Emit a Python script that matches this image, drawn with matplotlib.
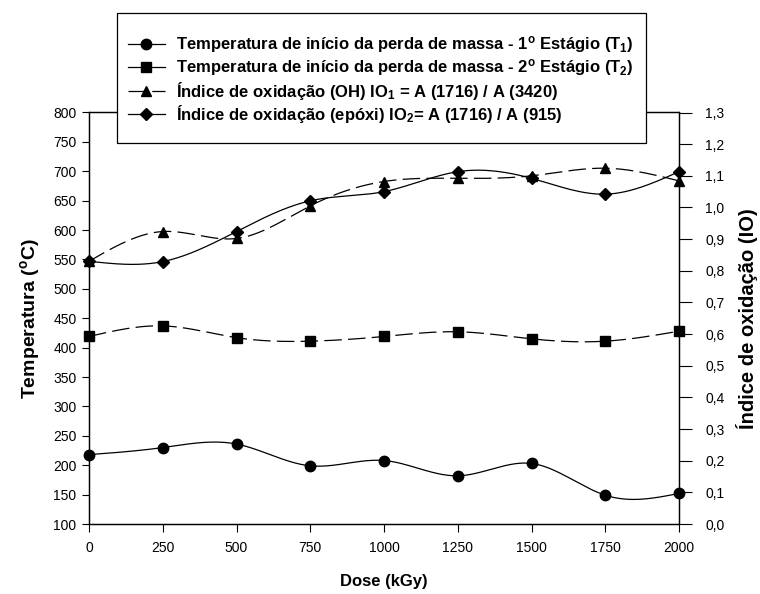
import numpy as np
import matplotlib
matplotlib.use("Agg")
import matplotlib.pyplot as plt
from matplotlib.patches import Rectangle
from matplotlib.lines import Line2D
from matplotlib.ticker import FuncFormatter, MultipleLocator

plt.rcParams['font.family'] = ['Liberation Sans', 'DejaVu Sans']
plt.rcParams['mathtext.fontset'] = 'custom'
plt.rcParams['mathtext.rm'] = 'Liberation Sans:bold'
plt.rcParams['mathtext.it'] = 'Liberation Sans:bold:italic'
plt.rcParams['mathtext.bf'] = 'Liberation Sans:bold'

# ---- data ----
dose = [0, 250, 500, 750, 1000, 1250, 1500, 1750, 2000]
t1 = [218, 230, 236, 199, 208, 182, 203, 149, 152]          # left axis (°C)
t2 = [419, 437, 417, 411, 419, 427, 415, 411, 428]          # left axis (°C)
io1 = [0.83, 0.924, 0.902, 1.005, 1.082, 1.092, 1.100, 1.124, 1.084]  # right axis
io2 = [0.83, 0.829, 0.924, 1.021, 1.050, 1.113, 1.092, 1.042, 1.113]  # right axis

labels = [
    r'Temperatura de início da perda de massa - 1$^{\mathrm{o}}$ Estágio (T$_{\mathrm{1}}$)',
    r'Temperatura de início da perda de massa - 2$^{\mathrm{o}}$ Estágio (T$_{\mathrm{2}}$)',
    r'Índice de oxidação (OH) IO$_{\mathrm{1}}$ = A (1716) / A (3420)',
    r'Índice de oxidação (epóxi) IO$_{\mathrm{2}}$= A (1716) / A (915)',
]


def natural_spline(x, y, xs):
    x = np.asarray(x, float)
    y = np.asarray(y, float)
    n = len(x)
    h = np.diff(x)
    A = np.zeros((n, n))
    r = np.zeros(n)
    A[0, 0] = 1
    A[-1, -1] = 1
    for i in range(1, n - 1):
        A[i, i - 1] = h[i - 1]
        A[i, i] = 2 * (h[i - 1] + h[i])
        A[i, i + 1] = h[i]
        r[i] = 3 * ((y[i + 1] - y[i]) / h[i] - (y[i] - y[i - 1]) / h[i - 1])
    c = np.linalg.solve(A, r)
    b = (y[1:] - y[:-1]) / h - h * (2 * c[:-1] + c[1:]) / 3
    d = (c[1:] - c[:-1]) / (3 * h)
    idx = np.clip(np.searchsorted(x, xs) - 1, 0, n - 2)
    dx = xs - x[idx]
    return y[idx] + b[idx] * dx + c[idx] * dx ** 2 + d[idx] * dx ** 3


fig = plt.figure(figsize=(7.6, 5.94), dpi=100)
ax = fig.add_axes([89 / 760, 1 - 524 / 594, (679 - 89) / 760, (524 - 112.5) / 594])
ax2 = ax.twinx()

xs = np.linspace(dose[0], dose[-1], 600)
lw = 0.9
dash = (14, 5)

# T1
ax.plot(xs, natural_spline(dose, t1, xs), color='black', lw=lw, zorder=2)
ax.plot(dose, t1, 'o', color='black', ms=7.5, zorder=3, clip_on=False)
# T2
ax.plot(xs, natural_spline(dose, t2, xs), color='black', lw=lw, dashes=dash, zorder=2)
ax.plot(dose, t2, 's', color='black', ms=6.5, zorder=3, clip_on=False)
# IO1
ax2.plot(xs, natural_spline(dose, io1, xs), color='black', lw=lw, dashes=dash, zorder=2)
ax2.plot(dose, io1, '^', color='black', ms=7, zorder=3, clip_on=False)
# IO2
ax2.plot(xs, natural_spline(dose, io2, xs), color='black', lw=lw, zorder=2)
ax2.plot(dose, io2, 'D', color='black', ms=6.5, zorder=3, clip_on=False)

ax.set_xlim(0, 2000)
ax.set_ylim(100, 800)
ax2.set_ylim(0, 1.3)
ax.xaxis.set_major_locator(MultipleLocator(250))
ax.yaxis.set_major_locator(MultipleLocator(50))
ax2.yaxis.set_major_locator(MultipleLocator(0.1))
ax2.yaxis.set_major_formatter(FuncFormatter(lambda v, p: f'{v:.1f}'.replace('.', ',')))

ax.tick_params(axis='y', direction='out', length=5, width=0.8, labelsize=10, pad=4)
ax.tick_params(axis='x', direction='out', length=6, width=0.8, labelsize=10, pad=6)
ax2.tick_params(axis='y', direction='out', length=9, width=0.8, labelsize=10, pad=10)
for a in (ax, ax2):
    for s in a.spines.values():
        s.set_linewidth(0.9)

ax.set_xlabel('Dose (kGy)', fontsize=12, fontweight='bold', labelpad=14)
ax.set_ylabel(r'Temperatura ($^{\mathrm{o}}$C)', fontsize=14, fontweight='bold', labelpad=8)
ax2.set_ylabel('Índice de oxidação (IO)', fontsize=14.5, fontweight='bold', labelpad=8)

# legend frame
fig.patches.append(Rectangle((117 / 760, 1 - 143 / 594), (646 - 117) / 760, (143 - 13) / 594,
                             transform=fig.transFigure, facecolor='white', edgecolor='black',
                             lw=0.9, zorder=5))
handles = [
    Line2D([], [], color='black', lw=lw, marker='o', ms=7.5),
    Line2D([], [], color='black', lw=lw, marker='s', ms=6.5),
    Line2D([], [], color='black', lw=lw, marker='^', ms=7, dashes=dash),
    Line2D([], [], color='black', lw=lw, marker='D', ms=6.5),
]
row_y = [45, 68, 91, 114]
for h, lab, yy in zip(handles, labels, row_y):
    leg = fig.legend([h], [lab], loc='center left', bbox_to_anchor=(128 / 760, 1 - yy / 594),
                     frameon=False, prop={'weight': 'bold', 'size': 12}, handlelength=2.2,
                     handletextpad=0.7, borderpad=0, borderaxespad=0)
    leg.set_zorder(6)

fig.savefig('out.png', dpi=100)
